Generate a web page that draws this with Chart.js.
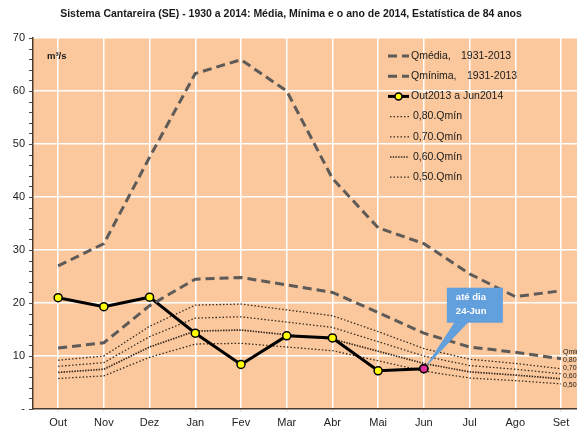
<!DOCTYPE html>
<html><head><meta charset="utf-8">
<script src="https://cdn.jsdelivr.net/npm/chart.js@4/dist/chart.umd.min.js"></script>
<style>html,body{margin:0;padding:0;background:#fff;overflow:hidden}#wrap{width:577px;height:428px;position:relative}canvas{display:block}</style>
</head><body><div id="wrap"><canvas id="c" width="577" height="428"></canvas></div>
<script>
const months = ['Out','Nov','Dez','Jan','Fev','Mar','Abr','Mai','Jun','Jul','Ago','Set'];
const qMedia  = [27.0,31.2,47.5,63.3,65.9,60.0,43.5,34.2,31.2,25.5,21.2,22.3];
const qMinima = [11.5,12.5,19.5,24.5,24.8,23.4,22.0,18.2,14.3,11.7,10.7,9.5];
const out2013 = [21.0,19.3,21.1,14.3,8.4,13.8,13.4,7.2,7.6];
const qmin80  = [9.2,10.0,15.6,19.6,19.8,18.7,17.6,14.6,11.4,9.4,8.6,7.6];
const qmin70  = [8.05,8.75,13.65,17.15,17.4,16.4,15.4,12.7,10.0,8.2,7.5,6.65];
const qmin60  = [6.9,7.5,11.7,14.7,14.9,14.0,13.2,10.9,8.6,7.0,6.4,5.7];
const qmin50  = [5.75,6.25,9.75,12.25,12.4,11.7,11.0,9.1,7.15,5.85,5.35,4.75];
const yTickValues = [0,10,20,30,40,50,60,70];
const yTickLabels = ['-','10','20','30','40','50','60','70'];
const rightLabels = ['Qmin','0,80','0,70','0,60','0,50'];
const calloutText = ['até dia','24-Jun'];
const titleText = 'Sistema Cantareira (SE) - 1930 a 2014: Média, Mínima e o ano de 2014, Estatística de 84 anos';

const pts = arr => arr.map((v,i)=>({x:i,y:v}));
const FONT = '"Liberation Sans", Arial, sans-serif';
const dashGray = '#5e5a57';
const dotCol = '#3b2a1e';

const datasets = [
  {label:'Qmédia,   1931-2013', data:pts(qMedia), borderColor:dashGray, borderWidth:3, borderDash:[9,5], pointRadius:0, tension:0},
  {label:'Qmínima,  1931-2013', data:pts(qMinima), borderColor:dashGray, borderWidth:3, borderDash:[9,5], pointRadius:0, tension:0},
  {label:'Out2013 a Jun2014', data:pts(out2013), borderColor:'#000', borderWidth:3, pointRadius:4,
    pointBackgroundColor: out2013.map((v,i)=> i===out2013.length-1 ? '#e0309a' : '#ffff00'),
    pointBorderColor:'#000', pointBorderWidth:1.5, tension:0},
  {label:'0,80.Qmín', data:pts(qmin80), borderColor:dotCol, borderWidth:1.3, borderDash:[1.5,2], pointRadius:0},
  {label:'0,70.Qmín', data:pts(qmin70), borderColor:dotCol, borderWidth:1.3, borderDash:[1.5,2], pointRadius:0},
  {label:'0,60.Qmín', data:pts(qmin60), borderColor:dotCol, borderWidth:1.7, borderDash:[1.5,1.2], pointRadius:0},
  {label:'0,50.Qmín', data:pts(qmin50), borderColor:dotCol, borderWidth:1.3, borderDash:[1.5,2], pointRadius:0},
];

const bgPlugin = {
  id:'bg',
  beforeDraw(chart){
    const {ctx, chartArea:a} = chart;
    ctx.save();
    ctx.fillStyle = '#fac89c';
    ctx.fillRect(a.left, a.top, a.right-a.left, a.bottom-a.top);
    ctx.restore();
  }
};

const decoPlugin = {
  id:'deco',
  afterDraw(chart){
    const {ctx, chartArea:a, scales:{x,y}} = chart;
    ctx.save();
    ctx.fillStyle = '#1a1a1a';
    ctx.font = 'bold 10.5px ' + FONT;
    ctx.textAlign = 'center'; ctx.textBaseline = 'middle';
    ctx.fillText(titleText, 291, 14);
    ctx.strokeStyle = '#5a4636'; ctx.lineWidth = 1;
    for (let v = 0; v <= 70; v += 2) {
      const py = Math.round(y.getPixelForValue(v)) + 0.5;
      ctx.beginPath(); ctx.moveTo(a.left - 4, py); ctx.lineTo(a.left, py); ctx.stroke();
    }
    ctx.fillStyle = '#1a1a1a';
    ctx.font = 'bold 9.5px ' + FONT;
    ctx.textAlign = 'left';
    ctx.fillText('m³/s', a.left + 14, 56);
    const lx = 388, ly0 = 56, dy = 20.2;
    chart.data.datasets.forEach((ds, i) => {
      const py = ly0 + i*dy;
      ctx.save();
      ctx.strokeStyle = ds.borderColor; ctx.lineWidth = ds.borderWidth;
      ctx.setLineDash(ds.borderDash || []);
      const x0 = i >= 3 ? lx + 2 : lx, x1 = lx + 21;
      ctx.beginPath(); ctx.moveTo(x0, py); ctx.lineTo(x1, py); ctx.stroke();
      ctx.setLineDash([]);
      if (i === 2) {
        ctx.beginPath(); ctx.arc((x0+x1)/2, py, 3.5, 0, Math.PI*2);
        ctx.fillStyle = '#ffff00'; ctx.fill(); ctx.lineWidth = 1.5; ctx.strokeStyle = '#000'; ctx.stroke();
      }
      ctx.restore();
      ctx.fillStyle = '#1a1a1a';
      ctx.font = '10.5px ' + FONT;
      ctx.textAlign = 'left'; ctx.textBaseline = 'middle';
      const parts = ds.label.split(/\s{2,}/);
      if (parts.length === 2) {
        ctx.fillText(parts[0], x1 + 2, py);
        ctx.fillText(parts[1], x1 + (i===0 ? 52 : 58), py);
      } else {
        ctx.fillText(ds.label, x1 + (i >= 3 ? 4 : 2), py);
      }
    });
    ctx.font = '7px ' + FONT;
    ctx.fillStyle = '#222';
    ctx.textAlign = 'left';
    const rx = x.getPixelForValue(11) + 2;
    const ry0 = y.getPixelForValue(qMinima[11]) - 7;
    rightLabels.forEach((t, i) => ctx.fillText(t, rx, ry0 + i*8.3));
    const jx = x.getPixelForValue(8), jy = y.getPixelForValue(out2013[8]);
    const bx = jx + 23, by = jy - 81, bw = 56, bh = 35;
    ctx.fillStyle = '#629fdd';
    ctx.beginPath();
    ctx.moveTo(bx + 8, by + bh - 1);
    ctx.lineTo(jx + 1, jy - 1);
    ctx.lineTo(bx + 22, by + bh - 1);
    ctx.closePath(); ctx.fill();
    ctx.fillRect(bx, by, bw, bh);
    ctx.fillStyle = '#fff';
    ctx.font = 'bold 9.5px ' + FONT;
    ctx.textAlign = 'left';
    ctx.fillText(calloutText[0], bx + 9, by + 10);
    ctx.fillText(calloutText[1], bx + 9, by + 24);
    ctx.beginPath(); ctx.arc(jx, jy, 4, 0, Math.PI*2);
    ctx.fillStyle = '#e0309a'; ctx.fill(); ctx.lineWidth = 1.5; ctx.strokeStyle = '#000'; ctx.stroke();
    ctx.restore();
  }
};

new Chart(document.getElementById('c'), {
  type:'line',
  data:{datasets},
  options:{
    responsive:false, animation:false, devicePixelRatio:1,
    layout:{autoPadding:false, padding:{top:38, right:0, left:0, bottom:0}},
    plugins:{legend:{display:false}, title:{display:false}, tooltip:{enabled:false}},
    scales:{
      x:{type:'linear', min:-0.55, max:11.35,
        afterBuildTicks(s){ s.ticks = months.map((m,i)=>({value:i})); },
        afterFit(s){ s.height = 19; s.paddingRight = 0; s.paddingLeft = 0; },
        ticks:{callback:(v)=>months[v], color:'#222', font:{family:FONT, size:11}, padding:4, maxRotation:0, autoSkip:false},
        grid:{color:'#ffffff', lineWidth:1.5, drawTicks:true, tickLength:3, tickColor:'#f4e6d6'},
        border:{color:'#4a3a2e', width:1.5}
      },
      y:{min:0, max:70,
        afterBuildTicks(s){ s.ticks = yTickValues.map(v=>({value:v})); },
        afterFit(s){ s.width = 33; s.paddingTop = 0; s.paddingBottom = 0; },
        ticks:{callback:(v)=>yTickLabels[yTickValues.indexOf(v)], color:'#222', font:{family:FONT, size:11}, padding:8},
        grid:{color:(c)=> c.tick && c.tick.value === 0 ? 'rgba(0,0,0,0)' : '#ffffff', lineWidth:1.5, drawTicks:false},
        border:{color:'#4a3a2e', width:1.5}
      }
    }
  },
  plugins:[bgPlugin, decoPlugin]
});
</script></body></html>
